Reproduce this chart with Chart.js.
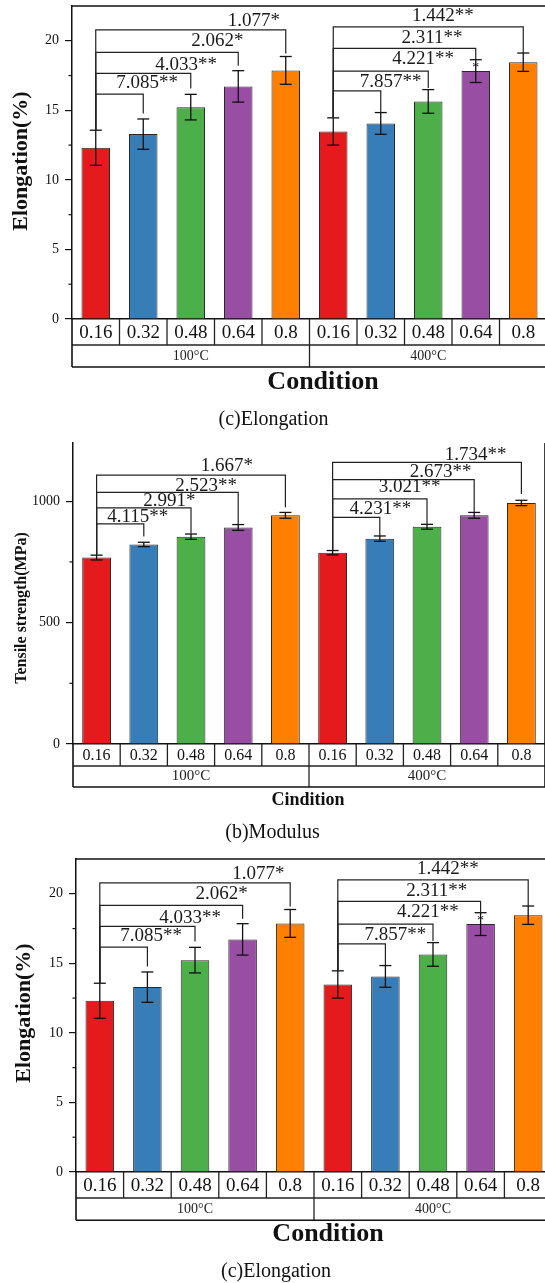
<!DOCTYPE html>
<html><head><meta charset="utf-8">
<script src="https://cdn.jsdelivr.net/npm/chart.js@4/dist/chart.umd.min.js"></script>
<style>
html,body{margin:0;padding:0;background:#fff;overflow:hidden;width:545px;height:1283px;}
.p{position:absolute;left:0;}
</style></head><body>
<div class="p" style="top:0;width:550px;height:440px"><canvas id="c1"></canvas></div>
<div class="p" style="top:430px;width:549px;height:420px"><canvas id="c2"></canvas></div>
<div class="p" style="top:850px;width:558px;height:434px"><canvas id="c3"></canvas></div>
<script>
// ---------------- DATA ----------------
const categories = ['0.16','0.32','0.48','0.64','0.8','0.16','0.32','0.48','0.64','0.8'];
const groups = ['100°C','400°C'];
const elongation    = [12.31, 13.29, 15.23, 16.72, 17.87, 13.48, 14.06, 15.64, 17.82, 18.46];
const elongationErr = [1.26, 1.09, 0.92, 1.13, 1.00, 0.98, 0.78, 0.85, 0.82, 0.66];
const modulus       = [768, 822, 854, 892, 942, 788, 846, 895, 942, 993];
const modulusErr    = [10, 9, 11, 12, 12, 9, 11, 10, 12, 11];
const elongationTicks = [0, 5, 10, 15, 20];
const modulusTicks    = [0, 500, 1000];
const elongationSig = ['7.085**','4.033**','2.062*','1.077*','7.857**','4.221**','2.311**','1.442**'];
const modulusSig    = ['4.115**','2.991*','2.523**','1.667*','4.231**','3.021**','2.673**','1.734**'];

// ---------------- STYLE / LAYOUT ----------------
const SERIF = '"Liberation Serif", "Times New Roman", serif';
const barColors = ['#E41A1C','#377EB8','#4DAF4A','#984EA3','#FF7F00','#E41A1C','#377EB8','#4DAF4A','#984EA3','#FF7F00'];
// bracket geometry: from/to bar index, level (data units), drop end, label position
const elongationBrackets = [
  {from:0,to:1,level:16.16,end:14.78,lx:1.08,ly:16.93},
  {from:0,to:2,level:17.65,end:16.57,lx:1.90,ly:18.25},
  {from:0,to:3,level:19.16,end:18.20,lx:2.56,ly:19.99},
  {from:0,to:4,level:20.78,end:19.09,lx:3.33,ly:21.43},
  {from:5,to:6,level:16.40,end:14.85,lx:6.21,ly:17.05},
  {from:5,to:7,level:17.82,end:16.60,lx:6.89,ly:18.66},
  {from:5,to:8,level:19.45,end:18.66,lx:7.08,ly:20.21},
  {from:5,to:9,level:21.00,end:19.11,lx:7.31,ly:21.77}
];
const modulusBrackets = [
  {from:0,to:1,level:907,end:855,lx:0.87,ly:937},
  {from:0,to:2,level:973,end:866,lx:1.54,ly:1003},
  {from:0,to:3,level:1037,end:900,lx:2.32,ly:1064},
  {from:0,to:4,level:1108,end:975,lx:2.76,ly:1146},
  {from:5,to:6,level:934,end:855,lx:6.01,ly:969},
  {from:5,to:7,level:1010,end:904,lx:6.63,ly:1057},
  {from:5,to:8,level:1089,end:955,lx:7.29,ly:1122},
  {from:5,to:9,level:1160,end:1030,lx:8.03,ly:1192}
];

const sketch = {
  id: 'sketch',
  afterDraw(chart, args, o) {
    const ctx = chart.ctx, xs = chart.scales.x, ys = chart.scales.y, a = chart.chartArea;
    const vals = chart.data.datasets[0].data;
    const meta = chart.getDatasetMeta(0);
    const line = (x1, y1, x2, y2) => { ctx.beginPath(); ctx.moveTo(x1, y1); ctx.lineTo(x2, y2); ctx.stroke(); };
    const text = (t, x, y, font, align) => { ctx.font = font; ctx.textAlign = align || 'center'; ctx.textBaseline = 'middle'; ctx.fillText(t, x, y); };
    ctx.save();
    ctx.lineCap = 'butt';
    // error bars
    ctx.strokeStyle = '#111'; ctx.lineWidth = 1.3;
    meta.data.forEach((bar, i) => {
      const yt = ys.getPixelForValue(vals[i] + o.err[i]);
      const yb = ys.getPixelForValue(vals[i] - o.err[i]);
      line(bar.x, yt, bar.x, yb);
      line(bar.x - o.cap, yt, bar.x + o.cap, yt);
      line(bar.x - o.cap, yb, bar.x + o.cap, yb);
    });
    // minor ticks
    ctx.lineWidth = 1.2;
    o.minor.forEach(v => { const py = ys.getPixelForValue(v); line(a.left - 3.5, py, a.left, py); });
    // frame
    ctx.lineWidth = 1.5; ctx.strokeStyle = '#111';
    if (o.topBorder) line(a.left - 0.75, a.top, a.right, a.top);
    // table under the x axis
    const y0 = a.bottom, r1 = y0 + o.row1, r2 = r1 + o.row2;
    const n = categories.length;
    ctx.lineWidth = 1.3; ctx.strokeStyle = '#222';
    for (let i = 1; i < n; i++) { const px = xs.getPixelForValue(i - 0.5); line(px, y0, px, r1); }
    line(a.left, r1, a.right, r1);
    const mid = xs.getPixelForValue(4.5);
    line(mid, r1, mid, r2);
    ctx.lineWidth = 1.6; ctx.strokeStyle = '#111';
    line(a.left, y0, a.left, r2);
    line(a.right, o.rightBorder ? a.top : y0, a.right, r2);
    line(a.left, r2, a.right, r2);
    ctx.fillStyle = '#222';
    groups.forEach((g, gi) => text(g, xs.getPixelForValue(gi * 5 + 2), (r1 + r2) / 2, o.groupFont));
    // brackets
    ctx.strokeStyle = '#222'; ctx.lineWidth = 1.2;
    o.brackets.forEach(b => {
      const xf = xs.getPixelForValue(b.from), xt = xs.getPixelForValue(b.to);
      const ys0 = ys.getPixelForValue(vals[b.from] + o.err[b.from]);
      const yl = ys.getPixelForValue(b.level), ye = ys.getPixelForValue(b.end);
      ctx.beginPath(); ctx.moveTo(xf, ys0); ctx.lineTo(xf, yl); ctx.lineTo(xt, yl); ctx.lineTo(xt, ye); ctx.stroke();
    });
    ctx.fillStyle = '#1a1a1a';
    o.brackets.forEach((b, i) => text(o.labels[i], xs.getPixelForValue(b.lx), ys.getPixelForValue(b.ly), o.sigFont));
    (o.marks || []).forEach(m => text(m.t, xs.getPixelForValue(m.x), ys.getPixelForValue(m.y), '14px ' + SERIF));
    // axis titles
    ctx.fillStyle = '#111';
    text(o.xTitle, o.xTitleX, a.bottom + o.xTitleDy, o.xTitleFont);
    ctx.save();
    ctx.translate(o.yTitleX, o.yTitleY);
    ctx.rotate(-Math.PI / 2);
    text(o.yTitle, 0, 0, o.yTitleFont);
    ctx.restore();
    ctx.restore();
  }
};

function makeChart(id, c) {
  return new Chart(document.getElementById(id), {
    type: 'bar',
    data: { labels: categories, datasets: [{
      data: c.values, backgroundColor: barColors, borderColor: '#2a2a2a', borderWidth: 1,
      barPercentage: c.barPct, categoryPercentage: 1 }] },
    options: {
      responsive: true, maintainAspectRatio: false, animation: false,
      layout: { padding: { top: c.padTop, left: 0, right: c.padRight, bottom: 0 } },
      plugins: {
        legend: { display: false }, tooltip: { enabled: false },
        title: { display: true, text: c.caption, position: 'bottom', color: '#111',
          font: { family: SERIF, size: 20, weight: 'normal', lineHeight: 1.2 },
          padding: { top: 0, bottom: c.capPad } },
        sketch: c.sketch
      },
      scales: {
        x: { type: 'category', offset: true,
          grid: { display: false, drawTicks: false },
          border: { display: true, color: '#111', width: 1.5 },
          ticks: { color: '#111', font: { family: SERIF, size: c.xFont, lineHeight: 1.2 }, padding: c.xPad, autoSkip: false, maxRotation: 0, minRotation: 0 },
          afterFit(s) { s.height = c.xH; s.paddingLeft = 0; s.paddingRight = 0; } },
        y: { min: 0, max: c.max,
          afterBuildTicks(s) { s.ticks = c.ticks.map(v => ({ value: v })); },
          ticks: { color: '#111', font: { family: SERIF, size: 14 }, padding: 6, callback: v => String(v) },
          grid: { drawOnChartArea: false, drawTicks: true, tickLength: 7, color: '#111', lineWidth: 1.2 },
          border: { display: true, color: '#111', width: 1.5 },
          afterFit(s) { s.width = c.yW; s.paddingTop = 0; s.paddingBottom = 0; } }
      }
    },
    plugins: [sketch]
  });
}

const elongSketch = (xTitleX, yTitleX, yTitleY) => ({
  err: elongationErr, cap: 6, minor: [2.5, 7.5, 12.5, 17.5], topBorder: true, rightBorder: false,
  row1: 26, row2: 22, groupFont: '14px ' + SERIF,
  brackets: elongationBrackets, labels: elongationSig, sigFont: '19px ' + SERIF,
  marks: [{ t: '*', x: 8, y: 18.05 }],
  xTitle: 'Condition', xTitleX: xTitleX, xTitleDy: 63.5, xTitleFont: 'bold 26px ' + SERIF,
  yTitle: 'Elongation(%)', yTitleX: yTitleX, yTitleY: yTitleY, yTitleFont: 'bold 22px ' + SERIF
});

makeChart('c1', { values: elongation, ticks: elongationTicks, max: 22.5, barPct: 0.6,
  padTop: 6, padRight: 3, yW: 72, xH: 89, capPad: 8, xFont: 19, xPad: 2.5,
  caption: '(c)Elongation', sketch: elongSketch(323, 21, 161) });

makeChart('c2', { values: modulus, ticks: modulusTicks, max: 1240, barPct: 0.61,
  padTop: 13, padRight: 4, yW: 73, xH: 77, capPad: 5, xFont: 16, xPad: 2,
  caption: '(b)Modulus',
  sketch: { err: modulusErr, cap: 6, minor: [250, 750], topBorder: false, rightBorder: true,
    row1: 22, row2: 21, groupFont: '15px ' + SERIF,
    brackets: modulusBrackets, labels: modulusSig, sigFont: '19px ' + SERIF,
    xTitle: 'Cindition', xTitleX: 308, xTitleDy: 56.5, xTitleFont: 'bold 18px ' + SERIF,
    yTitle: 'Tensile strength(MPa)', yTitleX: 22, yTitleY: 178, yTitleFont: 'bold 16px ' + SERIF } });

makeChart('c3', { values: elongation, ticks: elongationTicks, max: 22.5, barPct: 0.6,
  padTop: 9, padRight: 6, yW: 76, xH: 88, capPad: 0, xFont: 19, xPad: 2.5,
  caption: '(c)Elongation', sketch: Object.assign(elongSketch(328, 24, 163), { row2: 22.3, xTitleDy: 62 }) });
</script>
</body></html>
